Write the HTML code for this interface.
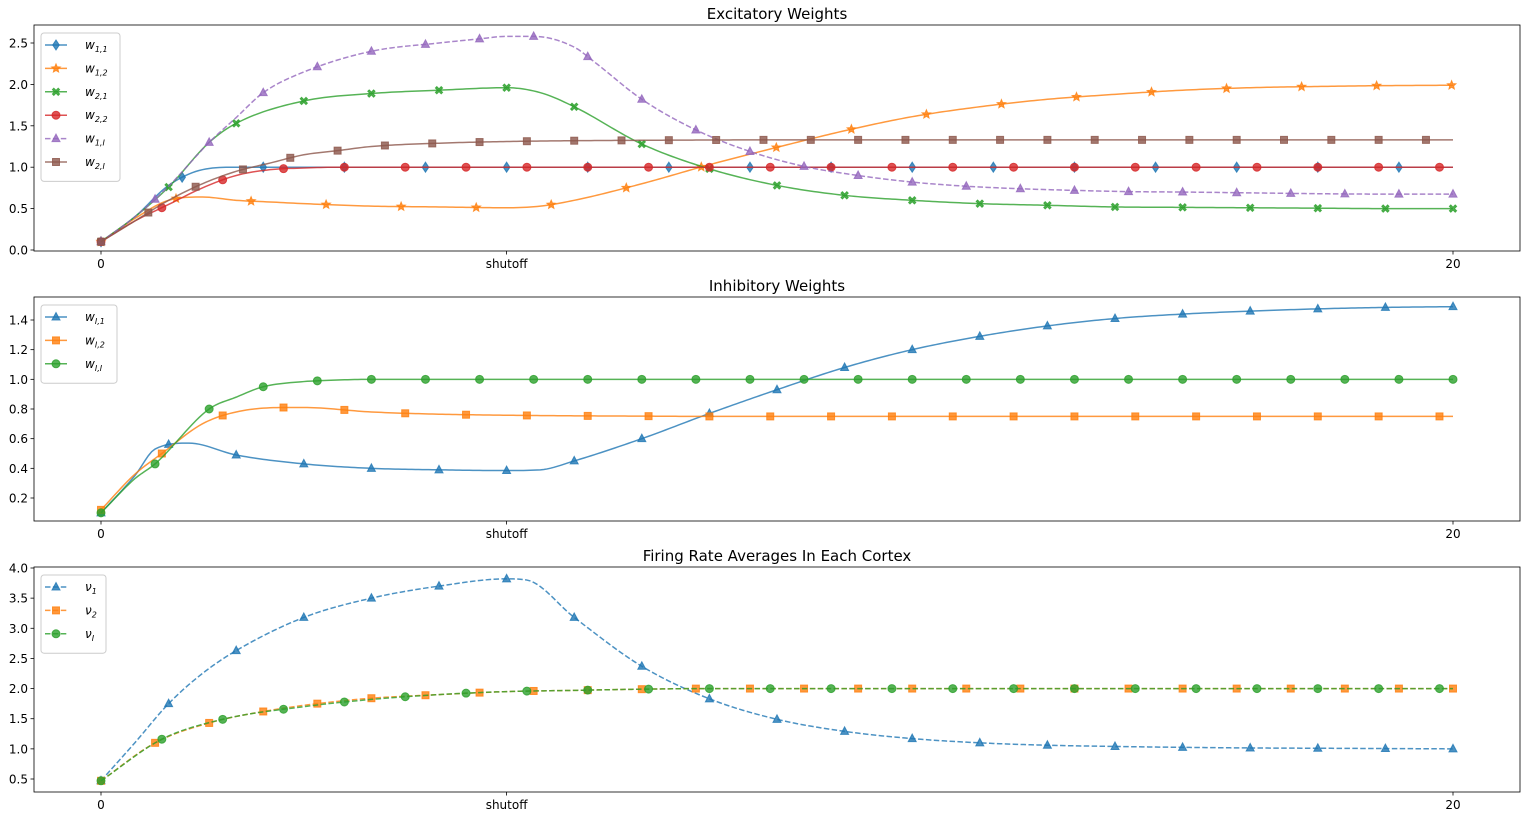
<!DOCTYPE html>
<html><head><meta charset="utf-8"><style>
body{margin:0;background:#fff}
svg text{font-family:"DejaVu Sans","Liberation Sans",sans-serif}
</style></head><body>
<svg id="fig" width="1530" height="822" xmlns="http://www.w3.org/2000/svg"></svg>
<script>
// ---------- Data ----------
const xTickVals = [0, 6, 20];
const xTickLabels = ["0", "shutoff", "20"];
const p1Ticks = [0.0, 0.5, 1.0, 1.5, 2.0, 2.5];
const p2Ticks = [0.2, 0.4, 0.6, 0.8, 1.0, 1.2, 1.4];
const p3Ticks = [0.5, 1.0, 1.5, 2.0, 2.5, 3.0, 3.5, 4.0];

const w11X = [0,0.5,1,1.5,2,3,20];
const w11Y = [0.1,0.4,0.78,0.97,1.0,1.0,1.0];
const w12X = [0,0.5,1,1.5,2,2.5,3,4,5,6,6.5,7,8,9,10,11,12,13,14,15,16,17,18,19,20];
const w12Y = [0.1,0.38,0.6,0.64,0.6,0.58,0.56,0.53,0.52,0.51,0.53,0.6,0.8,1.03,1.24,1.44,1.61,1.73,1.82,1.88,1.93,1.96,1.975,1.985,1.99];
const w21X = [0,0.5,1,1.6,2,3,4,5,6,6.5,7,8,9,10,11,12,13,14,15,16,17,18,19,20];
const w21Y = [0.1,0.4,0.76,1.3,1.53,1.8,1.89,1.93,1.96,1.9,1.73,1.28,0.98,0.78,0.66,0.6,0.56,0.54,0.52,0.515,0.51,0.505,0.5,0.5];
const w22X = [0,0.5,1,1.5,2,2.5,3,3.5,20];
const w22Y = [0.1,0.35,0.55,0.75,0.9,0.97,0.99,1.0,1.0];
const w1IX = [0,0.5,1,1.6,2,2.4,3,4,5,5.6,6,6.4,7,7.3,8,8.8,9.6,10.4,11.2,12,12.8,13.6,14.4,15.2,16,17,18,19,20];
const w1IY = [0.1,0.4,0.77,1.3,1.6,1.9,2.15,2.4,2.5,2.55,2.58,2.58,2.45,2.27,1.82,1.45,1.19,1.01,0.9,0.82,0.77,0.74,0.72,0.705,0.7,0.69,0.68,0.675,0.675];
const w2IX = [0,0.5,1,1.5,2,2.5,3,3.5,4,5,6,7,8,10,20];
const w2IY = [0.1,0.35,0.6,0.8,0.95,1.05,1.15,1.2,1.25,1.29,1.31,1.32,1.325,1.33,1.33];

const wI1X = [0,0.5,0.8,1.3,2,3,4,5,6,6.5,7,8,9,10,11,12,13,14,15,16,17,18,19,20];
const wI1Y = [0.1,0.35,0.53,0.57,0.49,0.43,0.4,0.39,0.385,0.39,0.45,0.6,0.77,0.93,1.08,1.2,1.29,1.36,1.41,1.44,1.46,1.475,1.485,1.49];
const wI2X = [0,0.5,0.9,1.5,2,2.7,3,4,5,6,7,8,9,20];
const wI2Y = [0.12,0.36,0.5,0.7,0.78,0.81,0.81,0.78,0.765,0.758,0.754,0.752,0.75,0.75];
const wIIX = [0,0.5,0.8,1.6,2,2.4,3,3.2,4,20];
const wIIY = [0.1,0.33,0.43,0.8,0.88,0.95,0.985,0.99,1.0,1.0];

const nu1X = [0,0.5,1,1.5,2,3,4,5,6,6.3,7,8,9,10,11,12,13,14,15,16,17,18,19,20];
const nu1Y = [0.47,1.1,1.75,2.25,2.63,3.18,3.5,3.7,3.82,3.8,3.18,2.37,1.83,1.49,1.29,1.17,1.1,1.06,1.04,1.025,1.015,1.01,1.005,1.0];
const nu2X = [0,0.8,1.6,2.4,3.2,4,5,6,7,8,9,20];
const nu2Y = [0.47,1.1,1.43,1.62,1.75,1.84,1.9,1.95,1.97,1.99,2.0,2.0];
const nuIX = [0,0.9,1.8,3,4,5,6,7,8,9,20];
const nuIY = [0.47,1.16,1.49,1.7,1.82,1.9,1.95,1.97,1.99,2.0,2.0];

// ---------- Rendering ----------
const NS = "http://www.w3.org/2000/svg";
const svg = document.getElementById("fig");
function mk(tag, attrs, parent){const e=document.createElementNS(NS,tag);for(const k in attrs)e.setAttribute(k,attrs[k]);(parent||svg).appendChild(e);return e;}
const C={blue:"#1f77b4",orange:"#ff7f0e",green:"#2ca02c",red:"#d62728",purple:"#9467bd",brown:"#8c564b"};
const X0=101, X20=1453;
const xs = v => X0 + (X20-X0)*v/20;

function interp(xa, ya){
  const n=xa.length, d=[], m=new Array(n);
  for(let i=0;i<n-1;i++) d.push((ya[i+1]-ya[i])/(xa[i+1]-xa[i]));
  m[0]=d[0]; m[n-1]=d[n-2];
  for(let i=1;i<n-1;i++) m[i]=(d[i-1]*d[i]<=0)?0:(d[i-1]+d[i])/2;
  for(let i=0;i<n-1;i++){ if(d[i]===0){m[i]=0;m[i+1]=0;continue;}
    const a=m[i]/d[i], b=m[i+1]/d[i], s=a*a+b*b; if(s>9){const t=3/Math.sqrt(s);m[i]=t*a*d[i];m[i+1]=t*b*d[i];}}
  return function(x){let i=0;while(i<n-2&&x>xa[i+1])i++;const h=xa[i+1]-xa[i],t=(x-xa[i])/h;
    const h00=2*t*t*t-3*t*t+1,h10=t*t*t-2*t*t+t,h01=-2*t*t*t+3*t*t,h11=t*t*t-t*t;
    return h00*ya[i]+h10*h*m[i]+h01*ya[i+1]+h11*h*m[i+1];};
}

function marker(g, shape, cx, cy, col){
  const st={fill:col,stroke:col,"stroke-width":1,"fill-opacity":0.8,"stroke-opacity":0.8};
  let e;
  const s=4;
  if(shape==="o") e=mk("circle",Object.assign({cx,cy,r:s},st),g);
  else if(shape==="s") e=mk("rect",Object.assign({x:cx-3.5,y:cy-3.5,width:7,height:7},st),g);
  else if(shape==="^") e=mk("polygon",Object.assign({points:`${cx},${cy-4.5} ${cx+4},${cy+3} ${cx-4},${cy+3}`},st),g);
  else if(shape==="d") e=mk("polygon",Object.assign({points:`${cx},${cy-5} ${cx+3.3},${cy} ${cx},${cy+5} ${cx-3.3},${cy}`},st),g);
  else if(shape==="*"){let p=[];for(let k=0;k<10;k++){const r=k%2?2:4.5,a=-Math.PI/2+k*Math.PI/5;p.push((cx+r*Math.cos(a)).toFixed(1)+","+(cy+r*Math.sin(a)).toFixed(1));}e=mk("polygon",Object.assign({points:p.join(" ")},st),g);}
  else if(shape==="X"){const a=3.6,b=1.4;let p=[[0,-b],[a-b,-a],[a,-a+b],[b,0],[a,a-b],[a-b,a],[0,b],[-a+b,a],[-a,a-b],[-b,0],[-a,-a+b],[-a+b,-a]];
    e=mk("polygon",Object.assign({points:p.map(q=>(cx+q[0])+","+(cy+q[1])).join(" ")},st),g);}
  
  
}

function labelText(parent, x, y, base, sub, size){
  const t=mk("text",{x,y,"font-size":size||11,fill:"#000"},parent);
  const a=mk("tspan",{"font-style":"italic"},t); a.textContent=base;
  if(sub){const b=mk("tspan",{"font-size":8,dy:3,"font-style":"italic"},t); b.textContent=sub;}
  return t;
}

function panel(cfg){
  const g=mk("g",{});
  
  
  const ys=v=>cfg.yPx0+(cfg.yPx1-cfg.yPx0)*(v-cfg.yV0)/(cfg.yV1-cfg.yV0);
  const tt=mk("text",{x:(cfg.L+cfg.R)/2,y:cfg.T-6,"font-size":15,"text-anchor":"middle",fill:"#000"},g);
  tt.textContent=cfg.title;
  
  
  cfg.yTicks.forEach(v=>{const y=ys(v);
    mk("line",{x1:cfg.L-3.5,x2:cfg.L,y1:y,y2:y,stroke:"#000","stroke-width":0.8},g);
    const t=mk("text",{x:cfg.L-6,y:y+4.5,"font-size":12,"text-anchor":"end",fill:"#000"},g);
    t.textContent=v.toFixed(1);
    
    });
  xTickVals.forEach((v,i)=>{const x=xs(v);
    mk("line",{x1:x,x2:x,y1:cfg.B,y2:cfg.B+3.5,stroke:"#000","stroke-width":0.8},g);
    const t=mk("text",{x,y:cfg.B+17,"font-size":12,"text-anchor":"middle",fill:"#000"},g);
    t.textContent=xTickLabels[i];
    
    });
  const clipId="clip"+cfg.name;
  const cp=mk("clipPath",{id:clipId},g); mk("rect",{x:cfg.L,y:cfg.T,width:cfg.R-cfg.L,height:cfg.B-cfg.T},cp);
  const plot=mk("g",{"clip-path":`url(#${clipId})`},g);
  cfg.series.forEach(s=>{
    const f=interp(s.x,s.y); let d="";
    for(let v=0;v<=20.0001;v+=0.05){d+=(d?"L":"M")+xs(v).toFixed(2)+","+ys(f(v)).toFixed(2);}
    const p=mk("path",{d,fill:"none",stroke:C[s.c],"stroke-width":1.5,"stroke-opacity":0.8,"stroke-dasharray":s.dash?"5.5,2.4":"none"},plot);
    
    
    for(let v=0;v<=20.0001;v+=s.step) marker(plot,s.m,xs(v),ys(f(v)),C[s.c]);
  });
  mk("rect",{x:cfg.L,y:cfg.T,width:cfg.R-cfg.L,height:cfg.B-cfg.T,fill:"none",stroke:"#000","stroke-width":0.8},g);
  const lg=mk("g",{},g);
  
  
  mk("rect",{x:41,y:cfg.T+8,width:cfg.legW,height:cfg.series.length*23.4+8,rx:3,fill:"#fff","fill-opacity":0.8,stroke:"#ccc"},lg);
  cfg.series.forEach((s,i)=>{const y=cfg.T+20+i*23.4;
    const e=mk("g",{},lg);
    
    
    mk("line",{x1:45,x2:67,y1:y,y2:y,stroke:C[s.c],"stroke-width":1.5,"stroke-opacity":0.8,"stroke-dasharray":s.dash?"5.5,2.4":"none"},e);
    marker(e,s.m,56,y,C[s.c]);
    labelText(e,85,y+4,s.base,s.sub,12);
  });
}

panel({name:"excitatory-panel",title:"Excitatory Weights",L:34,R:1520,T:25,B:251,yPx0:250,yPx1:43,yV0:0,yV1:2.5,yTicks:p1Ticks,legW:79,series:[
 {id:"w11",x:w11X,y:w11Y,c:"blue",m:"d",step:1.2,base:"w",sub:"1,1"},
 {id:"w12",x:w12X,y:w12Y,c:"orange",m:"*",step:1.11,base:"w",sub:"1,2"},
 {id:"w21",x:w21X,y:w21Y,c:"green",m:"X",step:1.0,base:"w",sub:"2,1"},
 {id:"w22",x:w22X,y:w22Y,c:"red",m:"o",step:0.9,base:"w",sub:"2,2"},
 {id:"w1I",x:w1IX,y:w1IY,c:"purple",m:"^",step:0.8,dash:1,base:"w",sub:"1,I"},
 {id:"w2I",x:w2IX,y:w2IY,c:"brown",m:"s",step:0.7,base:"w",sub:"2,I"}]});
panel({name:"inhibitory-panel",title:"Inhibitory Weights",L:34,R:1520,T:297,B:521,yPx0:498,yPx1:320,yV0:0.2,yV1:1.4,yTicks:p2Ticks,legW:76,series:[
 {id:"wI1",x:wI1X,y:wI1Y,c:"blue",m:"^",step:1.0,base:"w",sub:"I,1"},
 {id:"wI2",x:wI2X,y:wI2Y,c:"orange",m:"s",step:0.9,base:"w",sub:"I,2"},
 {id:"wII",x:wIIX,y:wIIY,c:"green",m:"o",step:0.8,base:"w",sub:"I,I"}]});
panel({name:"firing-rate-panel",title:"Firing Rate Averages In Each Cortex",L:34,R:1520,T:567,B:792,yPx0:779,yPx1:568,yV0:0.5,yV1:4.0,yTicks:p3Ticks,legW:65,series:[
 {id:"nu1",x:nu1X,y:nu1Y,c:"blue",m:"^",step:1.0,dash:1,base:"ν",sub:"1"},
 {id:"nu2",x:nu2X,y:nu2Y,c:"orange",m:"s",step:0.8,dash:1,base:"ν",sub:"2"},
 {id:"nuI",x:nuIX,y:nuIY,c:"green",m:"o",step:0.9,dash:1,base:"ν",sub:"I"}]});
</script>
</body></html>
